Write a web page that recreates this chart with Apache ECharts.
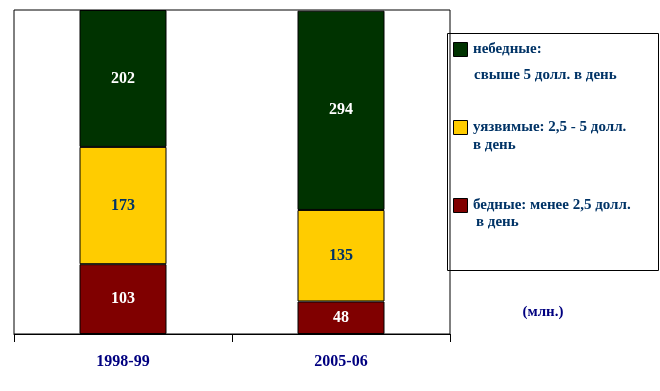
<!DOCTYPE html>
<html><head><meta charset="utf-8">
<script src="https://cdn.jsdelivr.net/npm/echarts@6/dist/echarts.min.js"></script>
<style>html,body{margin:0;padding:0;background:#fff}#c{width:660px;height:391px}</style>
</head><body><div id="c"></div>
<script>
const categories = ['1998-99', '2005-06'];
const poor = [103, 48];
const vulnerable = [173, 135];
const nonPoor = [202, 294];
const seriesNames = ['бедные: менее 2,5 долл. в день', 'уязвимые: 2,5 - 5 долл. в день', 'небедные: свыше 5 долл. в день'];
const unitLabel = '(млн.)';

const chart = echarts.init(document.getElementById('c'), null, {renderer: 'canvas'});
const serif = '"Liberation Serif", "DejaVu Serif", serif';
const navy = '#003366';
function mk(name, data, color, labelColor) {
  return {
    name, type: 'bar', stack: 'all', data, barWidth: 87,
    itemStyle: {color, borderColor: '#000', borderWidth: 1},
    label: {show: true, position: 'inside', color: labelColor, fontFamily: serif, fontWeight: 'bold', fontSize: 16},
    emphasis: {disabled: true}
  };
}
const legendText = {fontFamily: serif, fontWeight: 'bold', fontSize: 15, fill: navy};
chart.setOption({
  animation: false,
  grid: {left: 14, top: 10, right: 210, bottom: 57, show: true, borderColor: '#000', borderWidth: 1, containLabel: false},
  xAxis: {type: 'category', data: categories, boundaryGap: true,
    axisLine: {lineStyle: {color: '#000', width: 1}},
    axisTick: {show: true, length: 8, alignWithLabel: false, lineStyle: {color: '#000'}},
    axisLabel: {color: '#000080', fontFamily: serif, fontWeight: 'bold', fontSize: 16, margin: 20}},
  yAxis: {type: 'value', min: 0, max: 478, show: false, splitLine: {show: false}},
  series: [
    mk(seriesNames[0], poor, '#800000', '#ffffff'),
    mk(seriesNames[1], vulnerable, '#FFCC00', navy),
    mk(seriesNames[2], nonPoor, '#003300', '#ffffff')
  ],
  graphic: [
    {type: 'rect', shape: {x: 447.5, y: 33.5, width: 211, height: 237}, style: {fill: 'none', stroke: '#000', lineWidth: 1}, z: 10},
    {type: 'rect', shape: {x: 453.5, y: 42.5, width: 14, height: 14}, style: {fill: '#003300', stroke: '#000', lineWidth: 1}, z: 11},
    {type: 'text', x: 473, y: 49, style: Object.assign({text: 'небедные:', verticalAlign: 'middle'}, legendText), z: 11},
    {type: 'text', x: 474, y: 75, style: Object.assign({text: 'свыше 5 долл. в день', verticalAlign: 'middle'}, legendText), z: 11},
    {type: 'rect', shape: {x: 453.5, y: 120.5, width: 14, height: 14}, style: {fill: '#FFCC00', stroke: '#000', lineWidth: 1}, z: 11},
    {type: 'text', x: 473, y: 127, style: Object.assign({text: 'уязвимые: 2,5 - 5 долл.', verticalAlign: 'middle'}, legendText), z: 11},
    {type: 'text', x: 473, y: 145, style: Object.assign({text: 'в день', verticalAlign: 'middle'}, legendText), z: 11},
    {type: 'rect', shape: {x: 453.5, y: 198.5, width: 14, height: 14}, style: {fill: '#800000', stroke: '#000', lineWidth: 1}, z: 11},
    {type: 'text', x: 473, y: 205, style: Object.assign({text: 'бедные: менее 2,5 долл.', verticalAlign: 'middle'}, legendText), z: 11},
    {type: 'text', x: 476, y: 222, style: Object.assign({text: 'в день', verticalAlign: 'middle'}, legendText), z: 11},
    {type: 'text', x: 543, y: 312, style: {text: unitLabel, align: 'center', verticalAlign: 'middle', fontFamily: serif, fontWeight: 'bold', fontSize: 15, fill: '#000080'}, z: 11}
  ]
});
</script></body></html>
